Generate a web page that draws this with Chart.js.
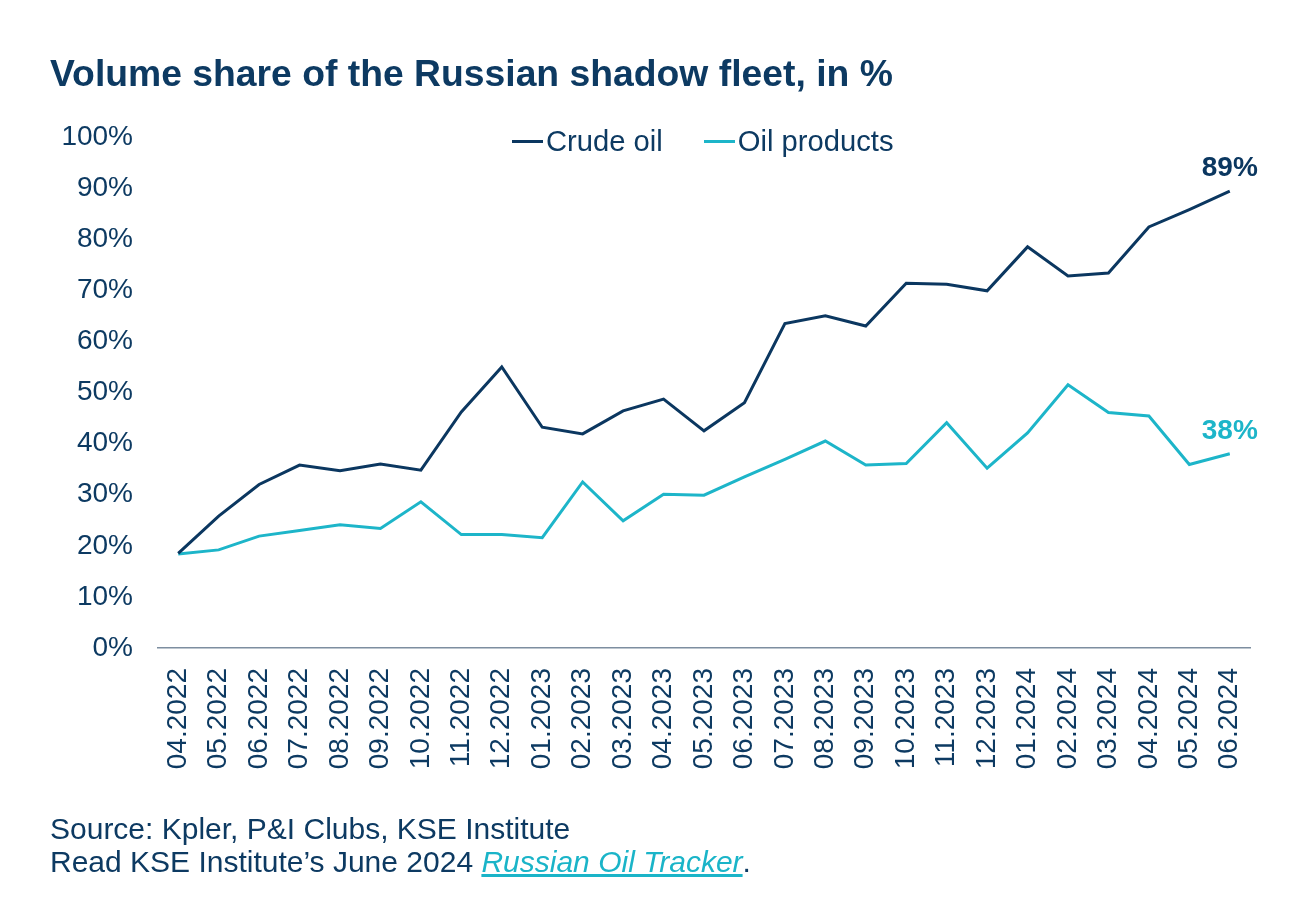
<!DOCTYPE html>
<html>
<head>
<meta charset="utf-8">
<script src="https://cdn.jsdelivr.net/npm/chart.js@4.4.1/dist/chart.umd.min.js"></script>
<style>
  html, body { margin: 0; padding: 0; background: #ffffff; }
  body { width: 1292px; height: 908px; position: relative; overflow: hidden; font-family: "Liberation Sans", Arial, sans-serif; color: #0d3a62; }
  #wrap { position: absolute; left: 0; top: 0; width: 1292px; height: 908px; }
  #title { position: absolute; left: 50px; top: 52px; font-size: 37.3px; font-weight: bold; color: #0d3a62; white-space: nowrap; }
  #legend { position: absolute; left: 512px; top: 125px; font-size: 29.2px; white-space: nowrap; display: flex; }
  .lg { display: flex; align-items: center; margin-right: 41px; }
  .lg span.sw { display: inline-block; width: 31px; height: 3px; margin-right: 3px; }
  #source { position: absolute; left: 50px; top: 812px; font-size: 30px; line-height: 33px; white-space: nowrap; }
  #source a { color: #1ab4c8; font-style: italic; text-decoration: underline; }
</style>
</head>
<body>
<div id="wrap"><canvas id="c" width="1292" height="908"></canvas></div>
<div id="title">Volume share of the Russian shadow fleet, in %</div>
<div id="legend"></div>
<div id="source">Source: Kpler, P&amp;I Clubs, KSE Institute<br>Read KSE Institute’s June 2024 <a>Russian Oil Tracker</a>.</div>
<script>
const categories = ["04.2022","05.2022","06.2022","07.2022","08.2022","09.2022","10.2022","11.2022","12.2022",
  "01.2023","02.2023","03.2023","04.2023","05.2023","06.2023","07.2023","08.2023","09.2023","10.2023","11.2023","12.2023",
  "01.2024","02.2024","03.2024","04.2024","05.2024","06.2024"];
const crudeOil = [18.5,25.8,32.0,35.8,34.7,36.0,34.8,46.2,55.0,43.2,41.9,46.4,48.7,42.5,48.0,63.5,65.0,63.0,71.4,71.2,69.9,78.5,72.8,73.4,82.4,85.8,89.4];
const oilProducts = [18.4,19.2,21.9,23.0,24.1,23.4,28.6,22.2,22.2,21.6,32.5,24.9,30.1,29.9,33.5,36.9,40.5,35.8,36.1,44.1,35.2,42.1,51.5,46.1,45.4,35.9,38.0];
const endLabels = ["89%","38%"];
const yTicks = [0,10,20,30,40,50,60,70,80,90,100];

const NAVY = "#0b3760";
const CYAN = "#1db5c9";
const TEXT = "#0d3a62";
const FONT = "'Liberation Sans', Arial, sans-serif";

const datasets = [
  { label: "Crude oil", data: crudeOil, borderColor: NAVY, backgroundColor: NAVY, borderWidth: 3, pointRadius: 0, tension: 0 },
  { label: "Oil products", data: oilProducts, borderColor: CYAN, backgroundColor: CYAN, borderWidth: 3, pointRadius: 0, tension: 0 }
];

// HTML legend from datasets
const lg = document.getElementById("legend");
datasets.forEach(d => {
  const el = document.createElement("div");
  el.className = "lg";
  el.innerHTML = '<span class="sw" style="background:' + d.borderColor + '"></span><span>' + d.label + '</span>';
  lg.appendChild(el);
});

const endLabelPlugin = {
  id: "endLabels",
  afterDatasetsDraw(chart) {
    const ctx = chart.ctx;
    ctx.save();
    ctx.font = "bold 28px " + FONT;
    ctx.textAlign = "center";
    ctx.textBaseline = "alphabetic";
    chart.data.datasets.forEach((ds, i) => {
      const meta = chart.getDatasetMeta(i);
      const pt = meta.data[meta.data.length - 1];
      ctx.fillStyle = ds.borderColor;
      ctx.fillText(endLabels[i], pt.x, pt.y - 15);
    });
    ctx.restore();
  }
};

new Chart(document.getElementById("c"), {
  type: "line",
  data: { labels: categories, datasets: datasets },
  options: {
    responsive: false,
    animation: false,
    layout: { padding: { left: 0, right: 42, top: 137, bottom: 0 } },
    plugins: { legend: { display: false }, tooltip: { enabled: false } },
    scales: {
      x: {
        offset: true,
        grid: { display: false, drawTicks: false },
        border: { display: true, color: "#7d8ea0", width: 1.5 },
        ticks: {
          color: TEXT, font: { family: FONT, size: 28 },
          minRotation: 90, maxRotation: 90, autoSkip: false, padding: 20
        },
        afterFit(scale) { scale.height = 260; }
      },
      y: {
        min: 0, max: 100,
        afterBuildTicks(scale) { scale.ticks = yTicks.map(v => ({ value: v })); },
        grid: { display: false, drawTicks: false },
        border: { display: false },
        ticks: {
          color: TEXT, font: { family: FONT, size: 28 },
          padding: 25,
          callback: v => v + "%"
        },
        afterFit(scale) { scale.width = 158; }
      }
    }
  },
  plugins: [endLabelPlugin]
});
</script>
</body>
</html>
